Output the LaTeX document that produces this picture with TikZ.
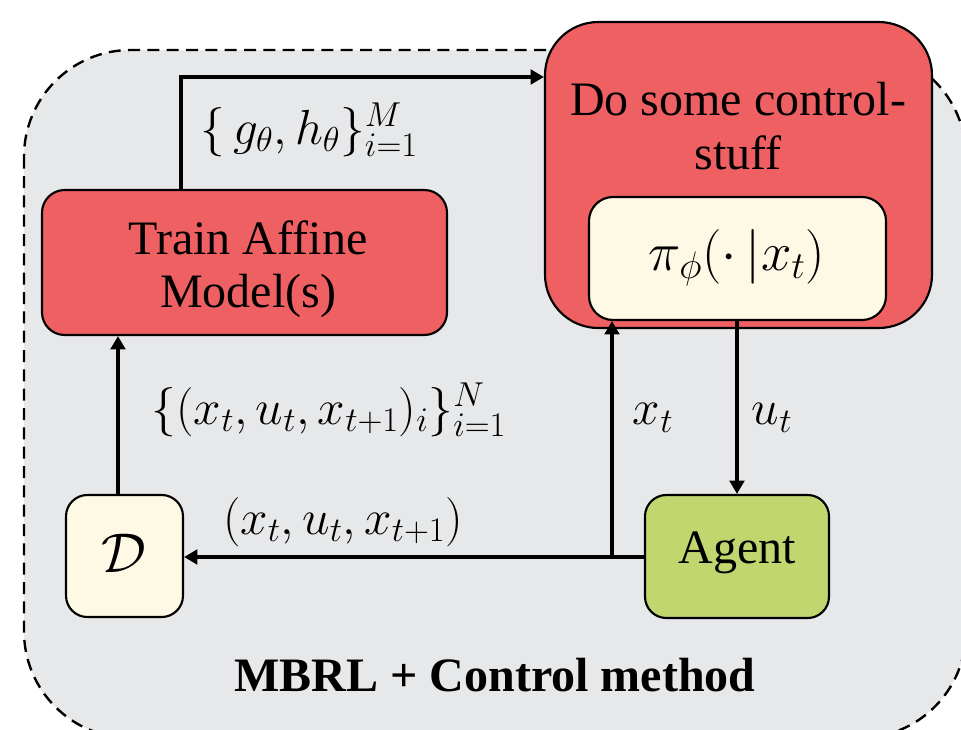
\documentclass[tikz,border=0pt]{standalone}
\usepackage{fix-cm}
\usepackage{fontspec}
\setmainfont{Liberation Serif}[Ligatures=TeX]
\newfontfamily\serifface{Liberation Serif}
\usetikzlibrary{arrows.meta}
\definecolor{panelgray}{HTML}{E7E8EA}
\definecolor{boxred}{HTML}{EE6062}
\definecolor{boxcream}{HTML}{FEF9E5}
\definecolor{boxgreen}{HTML}{C2D66F}
\tikzset{
  block/.style={draw=black, line width=1.6pt, rounded corners=#1, inner sep=0pt, align=center},
  block/.default=17pt,
  lbl/.style={font=\serifface\fontsize{36}{44}\selectfont, inner sep=0pt, align=center},
  mlbl/.style={font=\fontsize{37}{42}\selectfont, inner sep=0pt},
  arr/.style={draw=black, line width=2.3pt, -{Triangle[length=10pt,width=11pt]}}
}
\begin{document}
\begin{tikzpicture}[x=0.75pt, y=-0.75pt]
\useasboundingbox (0,0) rectangle (961,729);
\clip (0,0) rectangle (961,729);

% dashed panel holding the whole method
\draw[fill=panelgray, dash pattern=on 9pt off 5.5pt, line width=1.8pt, rounded corners=80pt]
  (24,50) rectangle (966,738);

% blocks
\node[block, fill=boxred, minimum width=303.75pt, minimum height=108.75pt] (train) at (244.5,262.5) {};
\node[lbl] (traintxt) at (248,269) {Train Affine\\[-4pt]Model(s)};

\node[block=40pt, fill=boxred, minimum width=290.25pt, minimum height=229.5pt] (ctrl) at (738.5,175) {};
\node[lbl] (ctrltxt) at (738,126) {Do some control-\\[-4pt]stuff};

\node[block=18pt, fill=boxcream, minimum width=222.75pt, minimum height=92.25pt] (pol) at (737.5,258.5) {};
\node[mlbl, font=\fontsize{41}{46}\selectfont] (poltxt) at (737,258) {$\pi_\phi(\cdot\,|x_t)$};

\node[block=16pt, fill=boxcream, minimum width=87.75pt, minimum height=91.5pt] (D) at (124.5,556) {};
\node[mlbl, font=\fontsize{42}{46}\selectfont] (Dtxt) at (124,553) {$\mathcal{D}$};

\node[block=16pt, fill=boxgreen, minimum width=138pt, minimum height=92.25pt] (agent) at (737,556.5) {};
\node[lbl] (agenttxt) at (737,553) {Agent};

% connectors
\coordinate (up) at (181,77);
\draw[arr] (up |- train.north) -- (up) -- (up -| ctrl.west);

\coordinate (dup) at (118,0);
\draw[arr] (dup |- D.north) -- (dup |- train.south);

\coordinate (br) at (612,557);
\draw[arr] (agent.west |- br) -- (D.east |- br);
\draw[arr] (br) -- (br |- pol.south);

\draw[arr] (pol.south -| agent.north) -- (agent.north);

% edge labels
\node[mlbl] (lgh) at (309,130) {$\{\,g_\theta, h_\theta\}_{i=1}^{M}$};
\node[mlbl] (lset) at (329,410) {$\{(x_t, u_t, x_{t+1})_i\}_{i=1}^{N}$};
\node[mlbl] (lx) at (653,418) {$x_t$};
\node[mlbl] (lu) at (772,418) {$u_t$};
\node[mlbl] (ltr) at (343,522) {$(x_t, u_t, x_{t+1})$};

% caption
\node[lbl, font=\serifface\fontsize{36}{44}\selectfont\bfseries] (cap) at (495,675) {MBRL + Control method};
\end{tikzpicture}
\end{document}
